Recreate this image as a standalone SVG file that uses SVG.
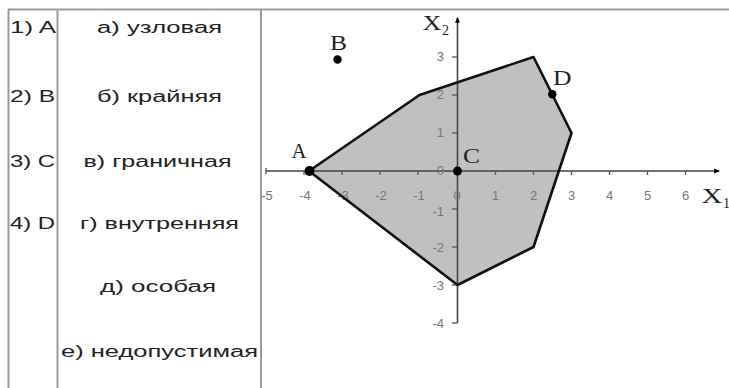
<svg xmlns="http://www.w3.org/2000/svg" width="729" height="388" viewBox="0 0 729 388">
<style>
.grid{stroke:#9a9a9a;stroke-width:2;fill:none}
.cell{font-family:"Liberation Sans",Arial,sans-serif;font-size:16px;fill:#222}
.tick{font-family:"Liberation Sans",Arial,sans-serif;font-size:13px;fill:#777}
.pt{font-family:"Liberation Serif","Times New Roman",serif;font-size:20px;fill:#222}
.sub{font-family:"Liberation Serif","Times New Roman",serif;font-size:14px;fill:#222}
.axis{stroke:#444;stroke-width:1.6;fill:none}
.tk{stroke:#555;stroke-width:1.3}
.dot{fill:#000}
</style>
<defs>
<marker id="arr" viewBox="0 0 10 10" refX="8" refY="5" markerWidth="6" markerHeight="6" orient="auto" markerUnits="userSpaceOnUse">
<path d="M0,1 L10,5 L0,9 z" fill="#000"/>
</marker>
</defs>
<rect width="729" height="388" fill="#fff"/>
<g id="table">
<line class="grid" x1="8" y1="9.5" x2="729" y2="9.5"/>
<line class="grid" x1="8.5" y1="9" x2="8.5" y2="388"/>
<line class="grid" x1="57.5" y1="9" x2="57.5" y2="388"/>
<line class="grid" x1="261" y1="9" x2="261" y2="388"/>
</g>
<g id="col-points">
<text class="cell" x="10" y="33" textLength="46" lengthAdjust="spacingAndGlyphs">1) A</text>
<text class="cell" x="10" y="101.5" textLength="45" lengthAdjust="spacingAndGlyphs">2) B</text>
<text class="cell" x="10" y="166.5" textLength="45" lengthAdjust="spacingAndGlyphs">3) C</text>
<text class="cell" x="10" y="228.5" textLength="45" lengthAdjust="spacingAndGlyphs">4) D</text>
</g>
<g id="col-types">
<text class="cell" x="97" y="33" textLength="125" lengthAdjust="spacingAndGlyphs">а) узловая</text>
<text class="cell" x="97" y="101.5" textLength="125" lengthAdjust="spacingAndGlyphs">б) крайняя</text>
<text class="cell" x="83.5" y="166.5" textLength="148" lengthAdjust="spacingAndGlyphs">в) граничная</text>
<text class="cell" x="80" y="228.5" textLength="159" lengthAdjust="spacingAndGlyphs">г) внутренняя</text>
<text class="cell" x="100" y="291.5" textLength="116" lengthAdjust="spacingAndGlyphs">д) особая</text>
<text class="cell" x="61" y="356.5" textLength="197" lengthAdjust="spacingAndGlyphs">е) недопустимая</text>
</g>
<g id="region">
<polygon points="309,171 419.5,95 533.5,57 571.5,133 533.5,247 457.5,285" fill="#c0c0c0" stroke="none"/>
</g>
<g id="axes">
<line class="axis" x1="266" y1="171" x2="719" y2="171" marker-end="url(#arr)"/>
<line class="axis" x1="457.5" y1="323" x2="457.5" y2="18" marker-end="url(#arr)"/>
<g class="tk">
<line x1="266" y1="168" x2="266" y2="174"/>
<line x1="304" y1="171" x2="304" y2="175"/>
<line x1="342" y1="171" x2="342" y2="175"/>
<line x1="380" y1="171" x2="380" y2="175"/>
<line x1="418" y1="171" x2="418" y2="175"/>
<line x1="495.5" y1="171" x2="495.5" y2="175"/>
<line x1="533.5" y1="171" x2="533.5" y2="175"/>
<line x1="571.5" y1="171" x2="571.5" y2="175"/>
<line x1="609.5" y1="171" x2="609.5" y2="175"/>
<line x1="647.5" y1="171" x2="647.5" y2="175"/>
<line x1="685.5" y1="171" x2="685.5" y2="175"/>
<line x1="452" y1="57" x2="457.5" y2="57"/>
<line x1="452" y1="95" x2="457.5" y2="95"/>
<line x1="452" y1="133" x2="457.5" y2="133"/>
<line x1="452" y1="209" x2="457.5" y2="209"/>
<line x1="452" y1="247" x2="457.5" y2="247"/>
<line x1="452" y1="285" x2="457.5" y2="285"/>
<line x1="452" y1="323" x2="457.5" y2="323"/>
</g>
<g class="tick" text-anchor="middle">
<text x="267" y="200">-5</text>
<text x="305" y="200">-4</text>
<text x="343" y="200">-3</text>
<text x="381" y="200">-2</text>
<text x="419" y="200">-1</text>
<text x="457" y="200">0</text>
<text x="495.5" y="200">1</text>
<text x="533.5" y="200">2</text>
<text x="571.5" y="200">3</text>
<text x="609.5" y="200">4</text>
<text x="647.5" y="200">5</text>
<text x="685.5" y="200">6</text>
</g>
<g class="tick" text-anchor="end">
<text x="444" y="61">3</text>
<text x="444" y="99">2</text>
<text x="444" y="137">1</text>
<text x="444" y="175">0</text>
<text x="444" y="216">-1</text>
<text x="444" y="252">-2</text>
<text x="444" y="290">-3</text>
<text x="444" y="328">-4</text>
</g>
<text class="pt" x="422.5" y="30" textLength="19" lengthAdjust="spacingAndGlyphs">X</text>
<text class="sub" x="442" y="35">2</text>
<text class="pt" x="701.5" y="203" textLength="21" lengthAdjust="spacingAndGlyphs">X</text>
<text class="sub" x="723" y="208">1</text>
</g>
<g id="boundary">
<polygon points="309,171 419.5,95 533.5,57 571.5,133 533.5,247 457.5,285" fill="none" stroke="#111" stroke-width="2.6" stroke-linejoin="round"/>
</g>
<g id="point-A">
<circle class="dot" cx="309.5" cy="171" r="5"/>
<text class="pt" x="291.5" y="158" textLength="15" lengthAdjust="spacingAndGlyphs">A</text>
</g>
<g id="point-B">
<circle class="dot" cx="337.5" cy="59.5" r="4.2"/>
<text class="pt" x="330" y="50" textLength="17" lengthAdjust="spacingAndGlyphs">B</text>
</g>
<g id="point-C">
<circle class="dot" cx="457.5" cy="171" r="4.5"/>
<text class="pt" x="463" y="163" textLength="17" lengthAdjust="spacingAndGlyphs">C</text>
</g>
<g id="point-D">
<circle class="dot" cx="552.3" cy="94.3" r="4.2"/>
<text class="pt" x="553" y="85" textLength="18.5" lengthAdjust="spacingAndGlyphs">D</text>
</g>
</svg>
